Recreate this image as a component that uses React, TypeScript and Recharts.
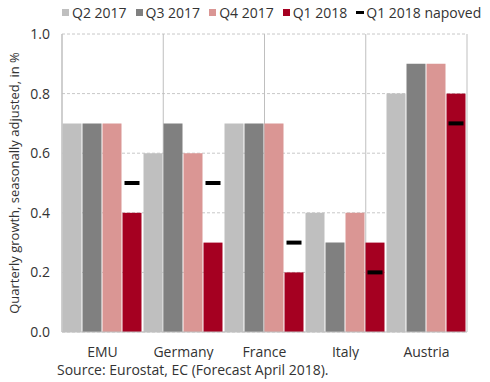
import React from 'react';
import { BarChart, Bar, XAxis, YAxis, CartesianGrid } from 'recharts';

const countries = ['EMU', 'Germany', 'France', 'Italy', 'Austria'];
const q2_2017 = [0.7, 0.6, 0.7, 0.4, 0.8];
const q3_2017 = [0.7, 0.7, 0.7, 0.3, 0.9];
const q4_2017 = [0.7, 0.6, 0.7, 0.4, 0.9];
const q1_2018 = [0.4, 0.3, 0.2, 0.3, 0.8];
const q1_2018_napoved = [0.5, 0.5, 0.3, 0.2, 0.7];
const yTicks = [0, 0.2, 0.4, 0.6, 0.8, 1.0];
const separators = [0, 1, 2, 3, 4, 5];

const series = [
  { key: 'q2_2017', name: 'Q2 2017', color: '#BFBFBF' },
  { key: 'q3_2017', name: 'Q3 2017', color: '#808080' },
  { key: 'q4_2017', name: 'Q4 2017', color: '#DA9694' },
  { key: 'q1_2018', name: 'Q1 2018', color: '#A50021' },
];

const data = countries.map((c, i) => ({
  country: c,
  q2_2017: q2_2017[i],
  q3_2017: q3_2017[i],
  q4_2017: q4_2017[i],
  q1_2018: q1_2018[i],
  napoved: q1_2018_napoved[i],
}));

const font = '"Open Sans", sans-serif';
const textColor = '#333';

// Q1 2018 bar plus the black forecast dash, placed with the bar's own scale
const BarWithForecast = (props: any) => {
  const { x, y, width, height, fill, payload } = props;
  const base = y + height;
  const perUnit = height / payload.q1_2018;
  const ny = base - payload.napoved * perUnit;
  return (
    <g>
      <rect x={x} y={y} width={width} height={height} fill={fill} />
      <rect x={x + 2} y={ny - 2} width={width - 4} height={4} fill="#000" />
    </g>
  );
};

const LegendRow = () => (
  <div
    style={{
      position: 'absolute',
      top: 3,
      left: 62,
      display: 'flex',
      alignItems: 'center',
      fontFamily: font,
      fontSize: 14,
      color: textColor,
      whiteSpace: 'nowrap',
    }}
  >
    {series.map((s) => (
      <span key={s.key} style={{ display: 'flex', alignItems: 'center', marginRight: 9 }}>
        <span style={{ width: 7, height: 7, background: s.color, marginRight: 3 }} />
        {s.name}
      </span>
    ))}
    <span style={{ display: 'flex', alignItems: 'center' }}>
      <span style={{ width: 8, height: 3, background: '#000', marginRight: 2 }} />
      Q1 2018 napoved
    </span>
  </div>
);

export default function App() {
  return (
    <div style={{ position: 'absolute', left: 0, top: 0, width: 490, height: 382, background: '#fff' }}>
      <LegendRow />
      <BarChart
        width={490}
        height={360}
        data={data}
        margin={{ top: 34, right: 23, bottom: 8, left: 0 }}
        barGap={1}
        barCategoryGap={0.5}
      >
        <CartesianGrid vertical={false} stroke="#C8C8C8" strokeDasharray="3 2" />
        <CartesianGrid horizontal={false} xAxisId="sep" stroke="#BFBFBF" />
        <XAxis
          dataKey="country"
          axisLine={{ stroke: '#BFBFBF' }}
          tickLine={false}
          height={20}
          tick={{ fill: textColor, fontSize: 14, fontFamily: font }}
          tickMargin={9}
        />
        <XAxis xAxisId="sep" type="number" domain={[0, 5]} ticks={separators} hide />
        <YAxis
          domain={[0, 1]}
          ticks={yTicks}
          width={62}
          axisLine={{ stroke: '#BFBFBF' }}
          tickLine={false}
          tickMargin={6}
          tickFormatter={(v: number) => v.toFixed(1)}
          tick={{ fill: textColor, fontSize: 14, fontFamily: font }}
          label={{
            value: 'Quarterly growth, seasonally adjusted, in %',
            angle: -90,
            position: 'insideLeft',
            offset: 14,
            style: { textAnchor: 'middle', fill: textColor, fontSize: 13, fontFamily: font },
          }}
        />
        {series.map((s) => (
          <Bar
            key={s.key}
            dataKey={s.key}
            name={s.name}
            fill={s.color}
            isAnimationActive={false}
            shape={s.key === 'q1_2018' ? BarWithForecast : undefined}
          />
        ))}
      </BarChart>
      <div
        style={{
          position: 'absolute',
          top: 360,
          left: 57,
          fontFamily: font,
          fontSize: 14,
          color: textColor,
          whiteSpace: 'nowrap',
        }}
      >
        Source: Eurostat, EC (Forecast April 2018).
      </div>
    </div>
  );
}
